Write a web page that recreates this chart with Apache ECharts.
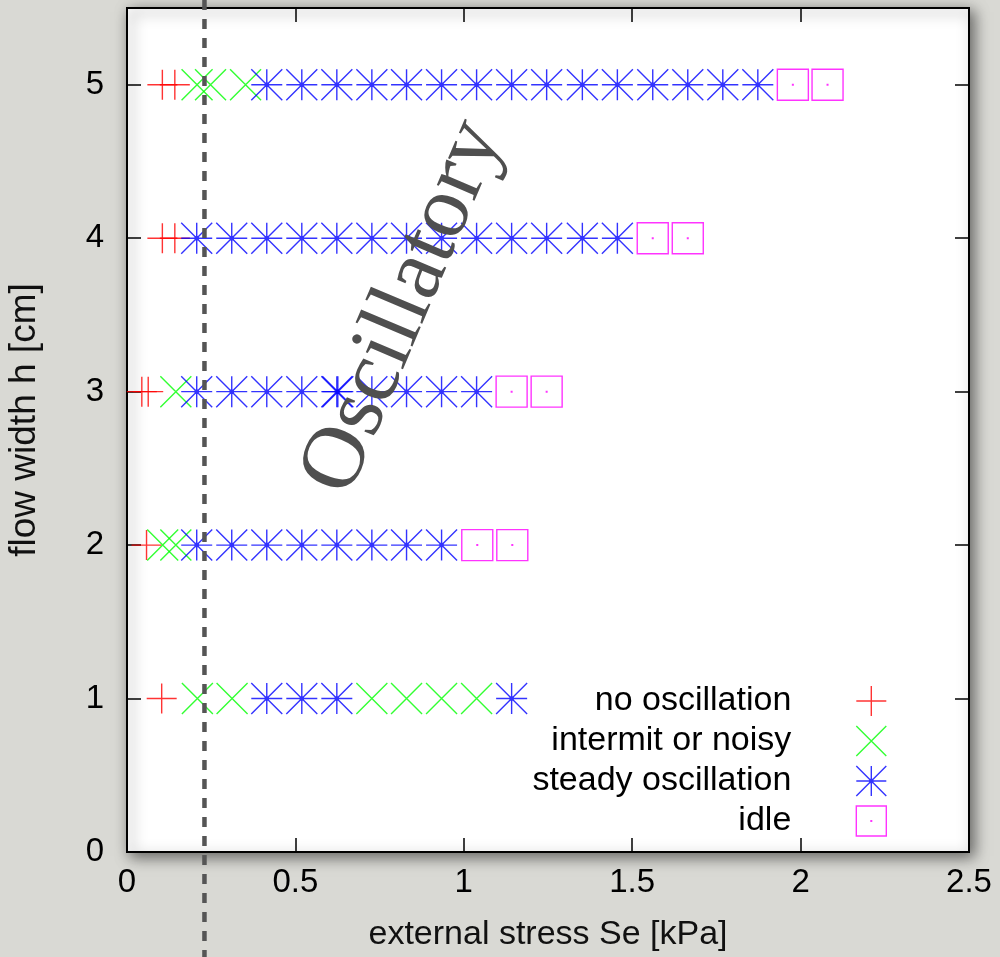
<!DOCTYPE html>
<html>
<head>
<meta charset="utf-8">
<script src="https://cdn.jsdelivr.net/npm/echarts@6/dist/echarts.min.js"></script>
<style>
html,body{margin:0;padding:0;background:#d9d9d4;}
#c{width:1000px;height:957px;}
</style>
</head>
<body>
<div id="c"></div>
<script>
// ---- data (external stress Se [kPa], flow width h [cm]) ----
const noOscillation = [[0.105,5],[0.142,5],[0.105,4],[0.142,4],[0.044,3],[0.063,3],[0.058,2],[0.103,1]];
const intermitOrNoisy = [[0.208,5],[0.248,5],[0.352,5],[0.145,3],[0.106,2],[0.145,2],
  [0.209,1],[0.312,1],[0.727,1],[0.830,1],[0.934,1],[1.038,1]];
const steadyH5 = [0.415,0.519,0.623,0.727,0.830,0.934,1.038,1.142,1.246,1.352,1.456,1.561,1.665,1.769,1.873];
const steadyH4 = [0.207,0.311,0.415,0.519,0.623,0.727,0.830,0.934,1.038,1.142,1.246,1.352,1.456];
const steadyH3 = [0.207,0.311,0.415,0.519,0.623,0.626,0.727,0.830,0.934,1.038];
const steadyH2 = [0.207,0.311,0.415,0.519,0.623,0.727,0.830,0.934];
const steadyH1 = [0.415,0.519,0.623,1.142];
const idle = [[1.977,5],[2.080,5],[1.561,4],[1.665,4],[1.142,3],[1.246,3],[1.040,2],[1.144,2]];
const seriesNames = ['no oscillation','intermit or noisy','steady oscillation','idle'];
const xTicks = {min:0, max:2.5, interval:0.5};
const yTicks = {min:0, max:5.5, interval:1};
const boundaryStress = 0.230;
const annotation = {text:'Oscillatory', x:0.822, y:3.55};

const steadyOscillation = []
  .concat(steadyH5.map(v=>[v,5]))
  .concat(steadyH4.map(v=>[v,4]))
  .concat(steadyH3.map(v=>[v,3]))
  .concat(steadyH2.map(v=>[v,2]))
  .concat(steadyH1.map(v=>[v,1]));

const FONT = '"Liberation Sans", Arial, Helvetica, sans-serif';
const symPlus = 'path://M0,50H100M50,0V100';
const symCross = 'path://M0,0L100,100M100,0L0,100';
const symStar = 'path://M0,50H100M50,0V100M0,0L100,100M100,0L0,100M45,45H55V55H45Z';
const symBox = 'path://M0,0H100V100H0ZM49,49H51V51H49Z';

function mk(name, data, symbol, size, color){
  return {type:'scatter', name, data, symbol, symbolSize:size, symbolKeepAspect:true,
    itemStyle:{color:'transparent', borderColor:color, borderWidth:1.4},
    emphasis:{disabled:true}, silent:true, z:3};
}

function axisCommon(){
  return {
    axisLine:{show:true, onZero:false, lineStyle:{color:'#000', width:2}},
    axisTick:{show:true, inside:true, length:14, lineStyle:{color:'#000', width:1.5}},
    splitLine:{show:false}
  };
}

const option = {
  animation:false,
  backgroundColor:'#d9d9d4',
  grid:{left:127, right:31, top:8, bottom:105, show:true, backgroundColor:'#fff',
    borderColor:'#000', borderWidth:2, shadowColor:'rgba(0,0,0,0.55)', shadowBlur:14,
    shadowOffsetX:4, shadowOffsetY:4, containLabel:false, outerBoundsMode:'none'},
  legend:{orient:'vertical', right:113, top:684, padding:0, align:'right',
    itemWidth:150, itemHeight:30, itemGap:6, selectedMode:false,
    itemStyle:{borderWidth:1.4},
    textStyle:{fontSize:34, color:'#000', fontFamily:FONT, lineHeight:30},
    data:seriesNames},
  xAxis:[
    Object.assign({type:'value', position:'bottom', min:xTicks.min, max:xTicks.max, interval:xTicks.interval,
      name:'external stress Se [kPa]', nameLocation:'middle', nameGap:66,
      nameTextStyle:{fontSize:34, color:'#111', fontFamily:FONT},
      axisLabel:{show:true, margin:14, fontSize:33, color:'#000', fontFamily:FONT}}, axisCommon()),
    Object.assign({type:'value', position:'top', min:xTicks.min, max:xTicks.max, interval:xTicks.interval,
      axisLabel:{show:false}}, axisCommon())
  ],
  yAxis:[
    Object.assign({type:'value', position:'left', min:yTicks.min, max:yTicks.max, interval:yTicks.interval,
      name:'flow width h [cm]', nameLocation:'middle', nameGap:84, nameRotate:90,
      nameTextStyle:{fontSize:37, color:'#111', fontFamily:FONT, padding:[0,0,0,20]},
      axisLabel:{show:true, margin:23, fontSize:33, color:'#000', fontFamily:FONT, showMaxLabel:false}}, axisCommon()),
    Object.assign({type:'value', position:'right', min:yTicks.min, max:yTicks.max, interval:yTicks.interval,
      axisLabel:{show:false}}, axisCommon())
  ],
  series:[
    mk(seriesNames[0], noOscillation, symPlus, 30, '#ff0000'),
    mk(seriesNames[1], intermitOrNoisy, symCross, 31, '#00ff00'),
    mk(seriesNames[2], steadyOscillation, symStar, 31, '#0000ff'),
    mk(seriesNames[3], idle, symBox, 31, '#ff00ff')
  ]
};

const chart = echarts.init(document.getElementById('c'), null, {renderer:'canvas'});
chart.setOption(option);
const lx = chart.convertToPixel({xAxisIndex:0}, boundaryStress);
const tp = chart.convertToPixel({xAxisIndex:0, yAxisIndex:0}, [annotation.x, annotation.y]);
chart.setOption({
  graphic:[
    {type:'text', x:tp[0], y:tp[1], rotation:67*Math.PI/180, z:100, silent:true,
      style:{text:annotation.text, fontSize:89, fontFamily:'"Liberation Serif", "Times New Roman", serif',
        fill:'#4f4f4f', align:'center', verticalAlign:'middle'}},
    {type:'line', z:101, silent:true, shape:{x1:lx, y1:0, x2:lx, y2:957},
      style:{stroke:'#555', lineWidth:4.5, lineDash:[10,9]}}
  ]
});
</script>
</body>
</html>
